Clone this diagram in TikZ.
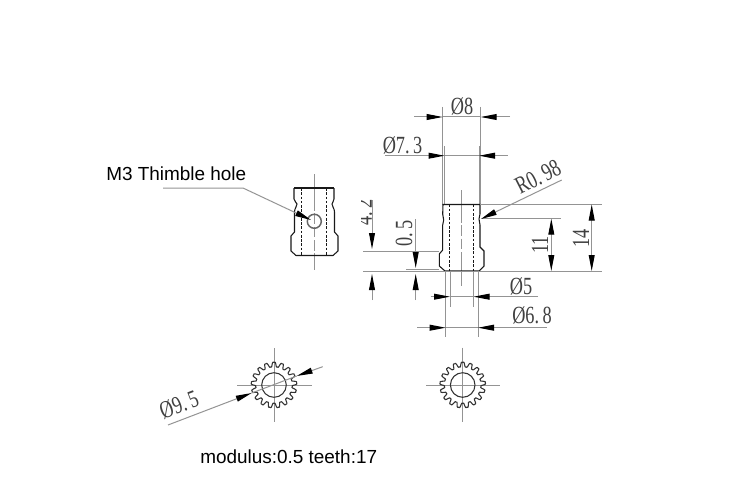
\documentclass[tikz,border=0pt]{standalone}
\usepackage{fontspec}
\setmainfont{Liberation Sans}
\newfontfamily\dimfont[FakeStretch=0.74]{Liberation Serif}
\newcommand{\pd}{.\kern2.6pt }
\usetikzlibrary{arrows.meta}
\definecolor{extc}{gray}{0.58}
\definecolor{partc}{gray}{0.1}
\tikzset{
 x=0.75pt,y=-0.75pt,
 part/.style={draw=partc,line width=0.8pt},
 hid/.style={draw=partc,line width=0.65pt,dash pattern=on 2pt off 1.2pt},
 ext/.style={draw=extc,line width=0.75pt},
 tip/.style={-{Triangle[length=12pt,width=4.4pt,black]}},
 dimtxt/.style={font=\dimfont\fontsize{18.5pt}{19pt}\selectfont,text=black!75,inner sep=0pt},
 lab/.style={font=\fontsize{14.2pt}{15pt}\selectfont,text=black,inner sep=0pt},
 declare function={gc(\a)=cos(17*\a+90); gr(\a)=20.5+2.7*(1.6*gc(\a)-0.8*gc(\a)*gc(\a)*gc(\a));},
}
\newcommand{\gearat}[2]{%
 \draw[part,draw=black!80] plot[smooth,domain=0:360,samples=341,variable=\t]
   ({#1+gr(\t)*cos(\t)},{#2+gr(\t)*sin(\t)}) -- cycle;
 \draw[part,draw=black!80] (#1,#2) circle[radius=12.3];
}
\begin{document}
\begin{tikzpicture}
\useasboundingbox[fill=white] (0,0) rectangle (750,492);
% ---- side view, left
\draw[ext] (314.3,174) -- (314.3,200);
\draw[ext,dash pattern=on 8pt off 2pt] (314.3,200) -- (314.3,258);
\draw[ext] (314.3,258) -- (314.3,270);
\draw[part] (294,188) -- (334,188);
\draw[part] (294,188) -- (294,199) .. controls (294,202) and (297,202) .. (297,204) .. controls (297,207) and (294.5,208) .. (294.5,212) -- (294.5,232) -- (291,236) -- (291,251) -- (296,255.5) -- (333,255.5) -- (338,251) -- (338,236) -- (334.5,232) -- (334.5,212) .. controls (334.5,208) and (332,207) .. (332,204) .. controls (332,202) and (334,202) .. (334,199) -- (334,188);
\draw[hid] (301.7,188) -- (301.7,255.5);
\draw[hid] (326,188) -- (326,255.5);
\draw[draw=black!60,line width=1.1pt] (314.3,221.3) circle[radius=7];
\node[lab,anchor=west] (thimble) at (106,173.5) {M3 Thimble hole};
\coordinate (leadstart) at (163,188);
\coordinate (leadbend) at (243,188);
\coordinate (leadtip) at (311,220);
\draw[ext,tip] (leadstart) -- (leadbend) -- (leadtip);
% ---- side view, right
\draw[ext] (442.7,107) -- (442.7,204.5);
\draw[ext] (480.7,107) -- (480.7,204.5);
\draw[ext] (444.5,146) -- (444.5,204.5);
\draw[ext] (479,146) -- (479,204.5);
\draw[ext] (461.7,190) -- (461.7,212);
\draw[ext,dash pattern=on 8pt off 2pt] (461.7,212) -- (461.7,262);
\draw[ext] (461.7,262) -- (461.7,286);
\draw[part] (443,204.5) -- (480,204.5) -- (480,214) .. controls (480,217) and (479,217) .. (479,219) .. controls (479,222) and (480,222) .. (480,225) -- (480,247) -- (484,251) -- (484,266) -- (479,271) -- (445,271) -- (439.3,266) -- (439.3,254) -- (442.7,250) -- (442.7,225) .. controls (442.7,222) and (443.7,222) .. (443.7,220) .. controls (443.7,217) and (442.7,217) .. (442.7,214) -- cycle;
\draw[hid] (449.3,204.5) -- (449.3,271);
\draw[hid] (473.7,204.5) -- (473.7,271);
% extension lines
\draw[ext] (480,204.5) -- (601.7,204.5);
\draw[ext] (482,218.7) -- (561,218.7);
\draw[ext] (363,271) -- (601.7,271);
\draw[ext] (363,251) -- (439,251);
\draw[ext] (406,269.5) -- (439,269.5);
\draw[ext] (450,271) -- (450,306.7);
\draw[ext] (473.5,271) -- (473.5,306.7);
\draw[ext] (445.7,271) -- (445.7,336.7);
\draw[ext] (478,271) -- (478,336.7);
% dimension 8
\draw[ext,tip] (414,117) -- (442.7,117);
\draw[ext,tip] (510,117) -- (480.7,117);
\draw[ext] (442.7,117) -- (480.7,117);
\node[dimtxt] (d8) at (462,106.5) {Ø8};
% dimension 7.3
\draw[ext,tip] (385,155.7) -- (444.5,155.7);
\draw[ext,tip] (507.7,155.7) -- (479,155.7);
\draw[ext] (444.5,155.7) -- (479,155.7);
\node[dimtxt] (d73) at (402.5,145) {Ø7\pd 3};
% R0.98
\draw[ext,tip] (561.7,180) -- (481,219);
\node[dimtxt,rotate=27] (r98) at (538,177) {R0\pd 98};
% 14
\draw[ext,tip] (591.7,238) -- (591.7,204.5);
\draw[ext,tip] (591.7,238) -- (591.7,271);
\node[dimtxt,rotate=90] (d14) at (581,238) {14};
% 11
\draw[ext,tip] (551.3,245) -- (551.3,218.7);
\draw[ext,tip] (551.3,245) -- (551.3,271);
\node[dimtxt,rotate=90] (d11) at (540,245) {11};
% 4.2
\draw[ext,tip] (372,200) -- (372,249);
\draw[ext,tip] (372,300) -- (372,274);
\begin{scope}
\clip (361.7,190) rectangle (375,235);
\node[dimtxt,rotate=90] (d42) at (364,212) {4\pd 2};
\end{scope}
% 0.5
\draw[ext,tip] (415.7,219) -- (415.7,268);
\draw[ext,tip] (415.7,300) -- (415.7,274);
\node[dimtxt,rotate=90] (d05) at (404,233) {0\pd 5};
% 5
\draw[ext,tip] (430.7,296.7) -- (450,296.7);
\draw[ext,tip] (538,296.7) -- (473.5,296.7);
\draw[ext] (450,296.7) -- (473.5,296.7);
\node[dimtxt] (d5) at (521,286) {Ø5};
% 6.8
\draw[ext,tip] (417,327.7) -- (445.7,327.7);
\draw[ext,tip] (546.7,327.7) -- (478,327.7);
\draw[ext] (445.7,327.7) -- (478,327.7);
\node[dimtxt] (d68) at (532,315) {Ø6\pd 8};
% ---- gears
\draw[ext] (237,385) -- (311.7,385);
\draw[ext] (274,348) -- (274,421.7);
\gearat{274}{385}
\draw[ext,tip] (168,425) -- (251.7,393);
\draw[ext,tip] (322.7,366.7) -- (296.7,376);
\draw[ext] (251.7,393) -- (296.7,376);
\node[dimtxt,rotate=21] (d95) at (179,404.5) {Ø9\pd 5};
\draw[ext] (426,385) -- (500,385);
\draw[ext] (462.7,347.7) -- (462.7,421.7);
\gearat{462.7}{385}
\node[lab,anchor=west] (mod) at (200,456.5) {modulus:0.5 teeth:17};
\end{tikzpicture}
\end{document}
